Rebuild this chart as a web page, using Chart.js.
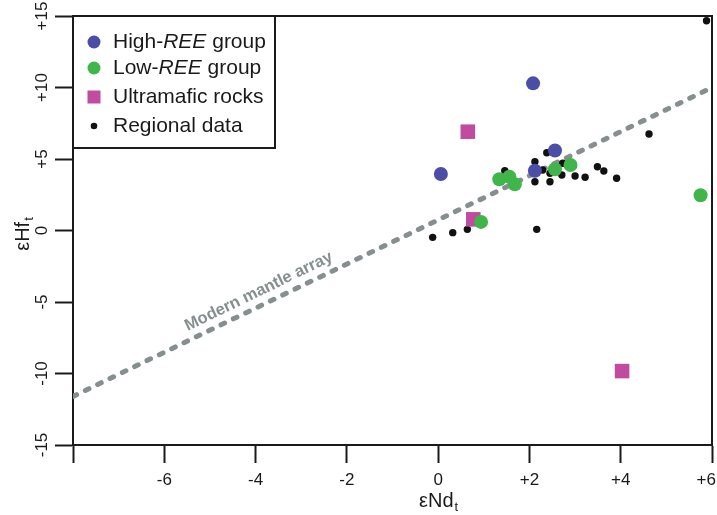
<!DOCTYPE html>
<html lang="en">
<head>
    <meta charset="UTF-8">
    <title>εHf vs εNd</title>
    <script src="https://cdn.jsdelivr.net/npm/chart.js"></script>
    <style>
        body { margin: 0; background: #fff; }
        #wrap { width: 717px; height: 515px; position: relative; }
    </style>
</head>
<body>
    <div id="wrap"><canvas id="grafica"></canvas></div>

    <script>
        // values
        const highReeNd = [0.06, 2.08, 2.12, 2.56];
        const highReeHf = [3.95, 10.29, 4.18, 5.59];

        const lowReeNd = [0.94, 1.34, 1.56, 1.68, 2.56, 2.90, 5.75];
        const lowReeHf = [0.60, 3.58, 3.76, 3.23, 4.28, 4.58, 2.46];

        const ultramaficNd = [0.65, 0.77, 4.03];
        const ultramaficHf = [6.91, 0.78, -9.83];

        const regionalNd = [-0.12, 0.32, 0.64, 2.16, 1.46, 2.12, 2.38, 2.29, 2.45, 2.12, 2.45,
                            2.71, 2.73, 3.00, 3.22, 3.49, 3.63, 3.91, 4.62, 5.88];
        const regionalHf = [-0.48, -0.15, 0.08, 0.08, 4.18, 4.81, 5.44, 4.23, 4.00, 3.41, 3.41,
                            3.88, 4.70, 3.81, 3.72, 4.46, 4.16, 3.65, 6.75, 14.67];

        const mantleNd = [-8, 6];
        const mantleHf = [-11.6, 10.0];

        const xTicks = [-6, -4, -2, 0, 2, 4, 6];
        const yTicks = [-15, -10, -5, 0, 5, 10, 15];

        const legendLabels = [
            ['High-', 'REE', ' group'],
            ['Low-', 'REE', ' group'],
            ['Ultramafic rocks'],
            ['Regional data']
        ];

        const FONT = '"Liberation Sans", Arial, sans-serif';
        const INK = '#1a1a1a';

        function pares(xs, ys) {
            return xs.map((x, i) => ({ x: x, y: ys[i] }));
        }
        function conSigno(v) {
            return v > 0 ? '+' + v : String(v);
        }

        const extras = {
            id: 'extras',
            afterDraw(chart) {
                const ctx = chart.ctx;
                const a = chart.chartArea;
                const sx = chart.scales.x, sy = chart.scales.y;
                ctx.save();

                // top and right frame
                ctx.strokeStyle = INK;
                ctx.lineWidth = 2;
                ctx.beginPath();
                ctx.moveTo(a.left, a.top);
                ctx.lineTo(a.right, a.top);
                ctx.lineTo(a.right, a.bottom);
                ctx.stroke();

                // tick labels
                ctx.fillStyle = INK;
                ctx.font = '17px ' + FONT;
                ctx.textAlign = 'center';
                ctx.textBaseline = 'middle';
                xTicks.forEach(v => {
                    const txt = conSigno(v);
                    const half = ctx.measureText(txt).width / 2;
                    const px = Math.min(sx.getPixelForValue(v), chart.width - half - 1);
                    ctx.fillText(txt, px, a.bottom + 35);
                });
                yTicks.forEach(v => {
                    ctx.save();
                    ctx.translate(a.left - 31, sy.getPixelForValue(v));
                    ctx.rotate(-Math.PI / 2);
                    ctx.fillText(conSigno(v), 0, 0);
                    ctx.restore();
                });

                // axis titles with subscript t
                function titulo(base, cx, cy, rot) {
                    ctx.save();
                    ctx.translate(cx, cy);
                    ctx.rotate(rot);
                    ctx.font = '20px ' + FONT;
                    const w1 = ctx.measureText(base).width;
                    ctx.font = '13px ' + FONT;
                    const w2 = ctx.measureText('t').width;
                    const x0 = -(w1 + w2) / 2;
                    ctx.textAlign = 'left';
                    ctx.textBaseline = 'alphabetic';
                    ctx.font = '20px ' + FONT;
                    ctx.fillText(base, x0, 7);
                    ctx.font = '13px ' + FONT;
                    ctx.fillText('t', x0 + w1 + 1, 11);
                    ctx.restore();
                }
                titulo('εNd', sx.getPixelForValue(0), a.bottom + 55, 0);
                titulo('εHf', a.left - 51, sy.getPixelForValue(0) + 4, -Math.PI / 2);

                // label along the mantle array
                const p1x = sx.getPixelForValue(mantleNd[0]), p1y = sy.getPixelForValue(mantleHf[0]);
                const p2x = sx.getPixelForValue(mantleNd[1]), p2y = sy.getPixelForValue(mantleHf[1]);
                const ang = Math.atan2(p2y - p1y, p2x - p1x);
                const t = 0.3;
                const mx = p1x + (p2x - p1x) * t, my = p1y + (p2y - p1y) * t;
                ctx.save();
                ctx.translate(mx, my);
                ctx.rotate(ang);
                ctx.fillStyle = '#878e90';
                ctx.font = 'bold 16.5px ' + FONT;
                ctx.textAlign = 'center';
                ctx.textBaseline = 'alphabetic';
                ctx.fillText('Modern mantle array', 0, -9);
                ctx.restore();

                // legend box
                const lx = a.left, ly = a.top, lw = 275 - a.left, lh = 132;
                ctx.fillStyle = '#fff';
                ctx.fillRect(lx, ly, lw, lh);
                ctx.strokeStyle = INK;
                ctx.lineWidth = 2;
                ctx.strokeRect(lx, ly, lw, lh);

                const filas = [26, 52, 81, 110];
                const ds = chart.data.datasets;
                ctx.textBaseline = 'middle';
                ctx.textAlign = 'left';
                legendLabels.forEach((partes, i) => {
                    const cy = ly + filas[i];
                    const cx = lx + 21;
                    ctx.fillStyle = ds[i].backgroundColor;
                    if (i === 2) {
                        ctx.fillRect(cx - 6.5, cy - 6.5, 13, 13);
                    } else {
                        ctx.beginPath();
                        ctx.arc(cx, cy, i === 3 ? 3.3 : 6.5, 0, Math.PI * 2);
                        ctx.fill();
                    }
                    ctx.fillStyle = INK;
                    let tx = lx + 40;
                    partes.forEach((p, j) => {
                        ctx.font = (j === 1 ? 'italic ' : '') + '21px ' + FONT;
                        ctx.fillText(p, tx, cy);
                        tx += ctx.measureText(p).width;
                    });
                });

                ctx.restore();
            }
        };

        const ctx = document.getElementById('grafica').getContext('2d');
        const grafica = new Chart(ctx, {
            type: 'scatter',
            data: {
                datasets: [
                    {
                        label: 'High-REE group',
                        data: pares(highReeNd, highReeHf),
                        backgroundColor: '#4a4ea6',
                        borderWidth: 0,
                        pointRadius: 7,
                        order: 2
                    },
                    {
                        label: 'Low-REE group',
                        data: pares(lowReeNd, lowReeHf),
                        backgroundColor: '#3fb54a',
                        borderWidth: 0,
                        pointRadius: 7,
                        order: 1
                    },
                    {
                        label: 'Ultramafic rocks',
                        data: pares(ultramaficNd, ultramaficHf),
                        backgroundColor: '#c04b9f',
                        borderWidth: 0,
                        pointStyle: 'rect',
                        pointRadius: 10.3,
                        order: 3
                    },
                    {
                        label: 'Regional data',
                        data: pares(regionalNd, regionalHf),
                        backgroundColor: '#111111',
                        borderWidth: 0,
                        pointRadius: 3.7,
                        order: 4
                    },
                    {
                        type: 'line',
                        label: 'Modern mantle array',
                        data: pares(mantleNd, mantleHf),
                        borderColor: '#878e90',
                        borderWidth: 5,
                        borderDash: [4, 9.7],
                        borderCapStyle: 'round',
                        pointRadius: 0,
                        fill: false,
                        order: 5
                    }
                ]
            },
            options: {
                responsive: true,
                maintainAspectRatio: false,
                animation: false,
                layout: { autoPadding: false, padding: { top: 16, right: 5, left: 0, bottom: 0 } },
                plugins: {
                    legend: { display: false },
                    tooltip: { enabled: false }
                },
                scales: {
                    x: {
                        type: 'linear',
                        min: -8,
                        max: 6,
                        ticks: { stepSize: 2, display: false },
                        grid: { drawOnChartArea: false, drawTicks: true, tickLength: 18, tickWidth: 2, tickColor: INK },
                        border: { display: true, color: INK, width: 2 },
                        afterFit: s => { s.height = 70; }
                    },
                    y: {
                        min: -15,
                        max: 15,
                        ticks: { stepSize: 5, display: false },
                        grid: { drawOnChartArea: false, drawTicks: true, tickLength: 18, tickWidth: 2, tickColor: INK },
                        border: { display: true, color: INK, width: 2 },
                        afterFit: s => { s.width = 73; }
                    }
                }
            },
            plugins: [extras]
        });
    </script>
</body>
</html>
